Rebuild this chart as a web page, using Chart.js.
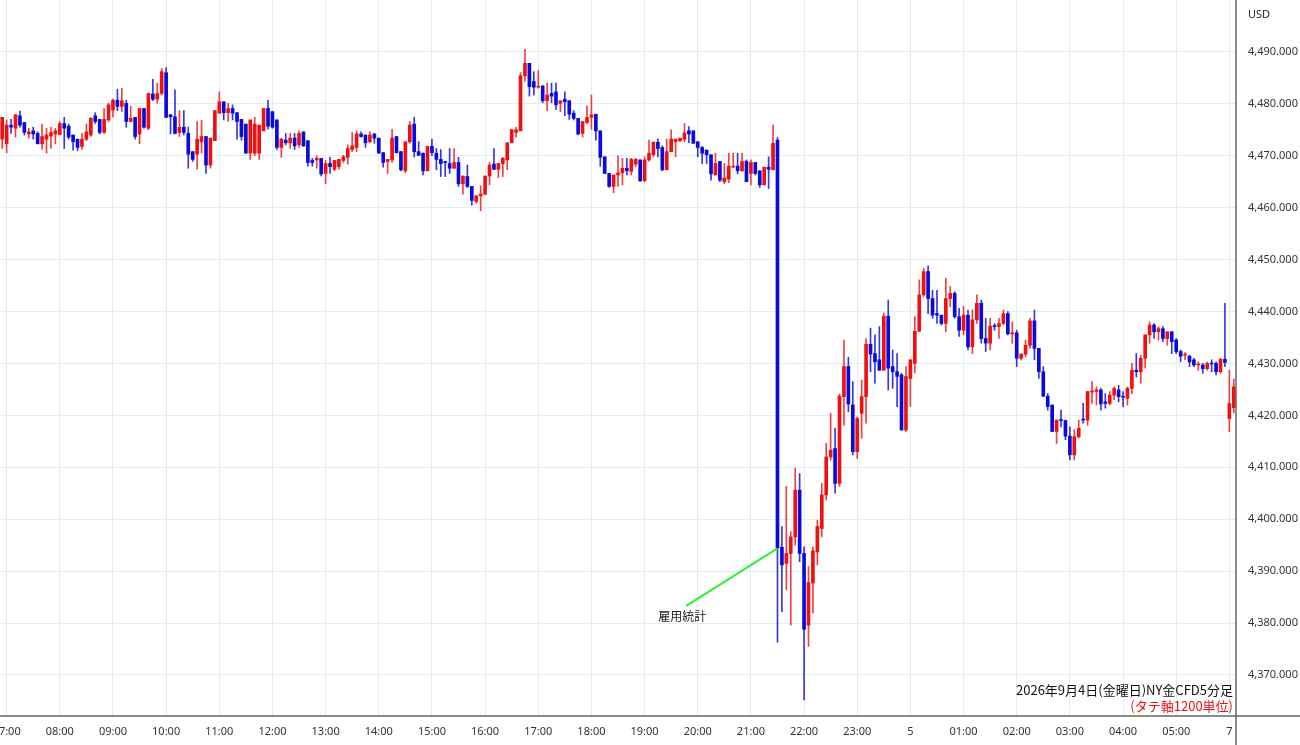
<!DOCTYPE html>
<html><head><meta charset="utf-8">
<script src="https://cdn.jsdelivr.net/npm/chart.js@4.4.1/dist/chart.umd.min.js"></script>
<style>html,body{margin:0;padding:0;background:#fff}</style>
</head><body><canvas id="c" width="1300" height="745"></canvas>
<script>
// OHLC per 5-minute candle [open, high, low, close]
const candles = [
[4473.2,4477.4,4471.4,4477.4],[4472.3,4476.9,4470.6,4475.9],[4475.9,4477.0,4474.3,4475.5],[4475.3,4477.9,4473.6,4477.9],[4477.7,4478.6,4475.5,4475.9],
[4476.4,4476.4,4474.0,4474.5],[4474.2,4475.3,4473.4,4474.6],[4474.8,4475.5,4473.2,4474.2],[4474.3,4474.6,4472.3,4472.3],[4472.3,4476.1,4471.2,4473.7],
[4473.2,4475.3,4470.5,4474.0],[4473.8,4475.5,4471.4,4474.5],[4474.2,4475.3,4472.3,4474.8],[4474.1,4476.6,4474.0,4476.2],[4476.2,4477.4,4471.4,4475.3],
[4475.7,4476.1,4473.2,4473.6],[4474.0,4474.0,4471.1,4472.7],[4473.2,4473.2,4471.0,4471.6],[4471.8,4474.3,4471.2,4473.2],[4473.2,4476.1,4472.9,4474.6],
[4474.0,4477.4,4473.7,4477.2],[4477.7,4478.3,4476.2,4476.6],[4477.0,4477.0,4474.2,4474.5],[4474.5,4479.1,4474.3,4477.0],[4476.9,4480.1,4476.6,4479.8],
[4478.8,4480.9,4477.5,4480.7],[4480.7,4482.8,4478.7,4479.5],[4479.5,4483.0,4478.5,4480.6],[4480.1,4480.7,4475.5,4476.6],[4476.6,4479.5,4476.6,4477.2],
[4477.4,4477.4,4473.2,4473.7],[4474.2,4479.1,4472.3,4479.1],[4479.1,4479.1,4475.3,4475.5],[4475.3,4482.0,4475.0,4482.0],[4481.9,4484.7,4480.6,4480.9],
[4480.9,4484.0,4480.1,4482.0],[4482.0,4486.8,4481.7,4486.2],[4486.0,4487.0,4477.4,4477.4],[4477.9,4477.9,4474.2,4477.5],[4477.5,4482.7,4474.2,4474.3],
[4474.5,4478.7,4473.7,4475.5],[4475.5,4478.7,4474.0,4474.5],[4474.3,4475.5,4467.6,4470.3],[4470.8,4470.8,4468.9,4469.3],[4470.3,4476.6,4467.4,4473.2],
[4472.7,4476.8,4470.5,4473.7],[4473.7,4473.7,4466.6,4468.2],[4468.2,4473.4,4467.6,4473.4],[4472.9,4478.7,4472.9,4478.7],[4478.2,4482.3,4478.2,4480.4],
[4480.4,4480.4,4476.9,4478.3],[4478.3,4480.1,4476.6,4479.1],[4479.1,4479.8,4476.9,4478.2],[4478.3,4478.3,4473.2,4476.6],[4477.0,4477.0,4473.0,4473.7],
[4476.1,4476.1,4470.5,4470.5],[4470.5,4476.9,4469.3,4476.9],[4470.5,4477.4,4470.0,4476.1],[4470.5,4475.9,4469.3,4475.9],[4474.8,4479.1,4474.8,4479.1],
[4479.1,4480.7,4475.1,4475.7],[4478.5,4478.5,4475.3,4475.5],[4476.9,4476.9,4471.2,4471.6],[4471.6,4473.4,4469.7,4473.2],[4473.0,4474.3,4472.1,4472.5],
[4472.5,4474.3,4471.4,4473.4],[4473.4,4474.3,4471.2,4471.9],[4472.1,4474.8,4471.6,4474.3],[4474.6,4474.6,4471.8,4471.9],[4472.9,4472.9,4468.0,4468.7],
[4469.1,4469.5,4468.0,4468.7],[4469.2,4470.0,4467.6,4469.5],[4469.5,4469.5,4466.1,4466.5],[4466.6,4469.1,4464.6,4468.5],[4468.5,4469.7,4466.6,4467.9],
[4467.4,4469.1,4467.1,4469.1],[4467.9,4469.3,4467.4,4469.3],[4469.1,4470.1,4468.7,4469.8],[4469.7,4472.1,4468.4,4471.4],[4471.2,4474.5,4470.8,4471.9],
[4471.6,4474.8,4470.8,4474.2],[4474.2,4474.6,4473.6,4473.7],[4474.0,4474.0,4471.6,4472.5],[4472.7,4474.6,4472.5,4474.0],[4474.2,4474.3,4472.4,4473.4],
[4473.4,4473.4,4470.5,4470.5],[4470.6,4470.6,4467.8,4468.7],[4468.9,4469.3,4466.6,4469.3],[4469.2,4475.1,4468.7,4473.4],[4473.7,4473.7,4470.5,4470.6],
[4470.8,4470.8,4467.1,4467.3],[4467.1,4472.7,4466.7,4472.7],[4472.7,4476.6,4472.4,4475.9],[4476.1,4477.4,4469.8,4470.8],[4470.8,4472.7,4470.0,4470.1],
[4470.5,4470.5,4466.3,4467.1],[4467.1,4471.8,4467.1,4471.8],[4471.8,4473.2,4470.0,4470.6],[4470.5,4471.4,4467.3,4469.3],[4469.3,4471.2,4466.0,4468.5],
[4468.9,4468.9,4466.0,4468.7],[4468.5,4471.4,4466.6,4467.6],[4467.6,4471.4,4467.6,4468.7],[4468.7,4469.7,4464.1,4464.6],[4464.6,4466.1,4462.6,4466.1],
[4466.0,4468.2,4463.9,4464.1],[4464.1,4464.1,4460.5,4461.4],[4461.2,4462.3,4460.9,4462.3],[4462.3,4464.2,4459.4,4462.6],[4462.6,4466.1,4462.5,4466.1],
[4466.1,4468.7,4464.4,4468.2],[4468.4,4471.4,4467.3,4467.4],[4467.4,4468.5,4465.8,4468.5],[4468.5,4469.7,4466.0,4469.5],[4469.2,4472.5,4467.3,4472.5],
[4472.5,4475.1,4472.5,4475.0],[4474.5,4475.5,4473.6,4475.0],[4474.8,4486.0,4474.8,4485.4],[4485.4,4490.5,4484.3,4487.8],[4487.8,4487.8,4481.5,4483.3],
[4484.3,4486.2,4481.7,4483.2],[4483.2,4486.4,4483.0,4483.4],[4483.4,4483.6,4480.2,4480.6],[4480.6,4484.0,4478.7,4481.7],[4482.0,4484.0,4480.2,4481.5],
[4482.3,4484.0,4478.9,4479.8],[4480.1,4480.6,4478.5,4480.6],[4480.9,4482.3,4477.7,4480.4],[4480.6,4480.6,4477.0,4478.0],[4478.2,4478.7,4476.9,4477.2],
[4477.2,4477.2,4474.0,4474.2],[4474.3,4476.6,4473.6,4476.6],[4476.4,4479.6,4476.2,4477.4],[4477.4,4481.7,4475.1,4477.9],[4478.0,4478.0,4473.0,4474.8],
[4474.8,4474.8,4468.0,4469.7],[4469.8,4469.8,4466.6,4466.6],[4466.6,4466.6,4463.9,4464.1],[4464.1,4466.3,4462.9,4466.3],[4466.3,4470.0,4464.1,4466.7],
[4466.7,4469.5,4464.4,4467.6],[4467.6,4469.5,4466.3,4467.1],[4467.0,4469.5,4466.3,4469.3],[4468.4,4469.5,4467.9,4469.3],[4469.2,4469.2,4465.0,4465.2],
[4465.2,4469.8,4465.0,4469.2],[4469.2,4473.0,4468.9,4470.5],[4470.2,4472.7,4469.8,4472.6],[4472.6,4473.2,4469.8,4471.4],[4471.6,4471.9,4467.1,4467.3],
[4467.3,4473.2,4467.3,4470.8],[4470.8,4475.0,4470.8,4473.2],[4472.7,4473.2,4469.8,4473.2],[4472.9,4473.4,4472.7,4473.4],[4473.2,4476.2,4472.7,4474.4],
[4474.8,4475.6,4472.5,4474.2],[4474.8,4474.8,4472.4,4472.4],[4472.7,4472.7,4469.8,4471.6],[4471.6,4471.8,4468.5,4470.5],[4471.1,4471.1,4468.5,4470.2],
[4470.2,4470.2,4465.3,4466.5],[4466.3,4470.5,4466.3,4468.5],[4468.9,4468.9,4465.0,4465.3],[4465.0,4468.5,4464.6,4465.7],[4465.5,4470.5,4464.8,4468.0],
[4467.8,4470.5,4467.8,4468.0],[4468.0,4470.5,4466.5,4467.1],[4467.1,4470.5,4467.0,4468.9],[4468.9,4469.2,4465.0,4465.0],[4466.6,4469.2,4464.4,4468.7],
[4468.7,4468.7,4466.3,4466.6],[4467.1,4467.1,4463.9,4464.4],[4464.4,4467.8,4464.4,4467.8],[4467.8,4469.8,4463.7,4467.4],[4467.3,4475.9,4467.3,4472.4],
[4473.0,4473.5,4376.3,4394.4],
[4394.6,4398.6,4382.2,4391.2],[4391.5,4406.3,4386.4,4393.4],[4393.4,4397.6,4379.6,4396.6],[4396.6,4409.8,4395.0,4405.6],[4405.6,4408.8,4391.8,4393.4],
[4393.4,4394.7,4365.2,4378.8],[4379.6,4390.9,4375.5,4387.8],[4387.7,4394.7,4381.9,4393.9],[4393.7,4399.8,4391.2,4398.6],[4398.2,4406.9,4396.6,4404.7],
[4404.7,4414.6,4403.7,4412.0],[4412.0,4420.4,4411.4,4413.3],[4413.6,4417.5,4405.0,4406.9],[4406.9,4424.1,4406.3,4423.7],[4423.6,4434.5,4418.1,4429.4],
[4429.4,4431.2,4420.7,4422.2],[4422.0,4426.5,4412.4,4413.0],[4413.0,4419.7,4411.7,4419.4],[4420.4,4426.8,4415.6,4423.6],[4423.6,4434.8,4418.5,4433.7],
[4433.7,4436.8,4428.4,4431.8],[4431.9,4435.5,4426.2,4430.3],[4430.7,4437.1,4428.7,4428.7],[4428.7,4439.7,4428.7,4439.1],[4439.1,4442.2,4424.9,4429.1],
[4429.4,4432.6,4425.2,4428.4],[4428.4,4431.9,4421.7,4427.5],[4427.8,4428.1,4417.1,4417.2],[4417.2,4429.4,4416.9,4427.5],[4427.1,4430.7,4421.7,4430.7],
[4430.0,4439.0,4428.2,4436.2],[4436.2,4446.1,4436.2,4443.2],[4443.2,4448.3,4442.9,4447.7],[4447.7,4448.8,4439.6,4442.5],[4442.5,4444.1,4438.7,4439.3],
[4439.6,4444.1,4437.7,4439.3],[4439.3,4439.3,4437.4,4437.7],[4437.7,4446.4,4436.1,4442.5],[4442.5,4444.8,4440.9,4443.5],[4443.5,4443.8,4438.7,4439.0],
[4439.0,4440.6,4435.2,4436.4],[4436.4,4441.0,4435.5,4439.3],[4439.3,4440.3,4432.6,4433.2],[4433.2,4440.3,4431.9,4438.4],[4438.4,4443.2,4437.7,4441.6],
[4441.6,4442.2,4433.9,4434.8],[4434.8,4438.7,4432.3,4433.9],[4433.9,4438.7,4432.6,4437.2],[4437.2,4437.7,4436.4,4437.1],[4437.1,4438.7,4434.8,4437.7],
[4437.7,4440.3,4437.4,4439.6],[4439.6,4440.0,4435.5,4435.7],[4435.7,4438.0,4433.9,4435.9],[4435.9,4436.4,4429.4,4431.0],[4431.0,4431.9,4430.7,4431.8],
[4431.8,4434.5,4431.3,4433.5],[4433.5,4438.7,4432.9,4438.2],[4438.2,4440.3,4430.7,4432.9],[4432.9,4432.9,4427.1,4428.4],[4428.4,4429.4,4423.6,4423.7],
[4423.7,4424.2,4421.0,4421.7],[4422.0,4422.0,4416.9,4416.9],[4416.9,4419.1,4414.6,4419.1],[4419.1,4421.0,4417.8,4419.0],[4419.0,4419.1,4415.3,4416.0],
[4416.0,4417.8,4411.4,4412.4],[4412.4,4417.3,4411.4,4415.9],[4415.9,4419.1,4415.6,4417.5],[4419.2,4422.3,4418.5,4419.1],[4419.1,4424.6,4418.1,4424.6],
[4424.5,4426.5,4422.3,4424.7],[4424.6,4425.5,4422.0,4424.9],[4424.9,4425.2,4421.0,4422.2],[4422.6,4424.2,4421.4,4422.3],[4422.3,4424.6,4422.0,4423.9],
[4423.9,4425.5,4423.0,4425.2],[4424.9,4425.8,4422.6,4423.6],[4423.6,4424.6,4421.7,4423.5],[4423.3,4425.5,4422.0,4425.2],[4425.2,4430.0,4424.2,4428.7],
[4428.7,4431.9,4427.4,4428.4],[4428.4,4431.6,4426.2,4431.0],[4431.0,4435.5,4429.1,4435.5],[4435.5,4438.0,4433.9,4437.4],[4437.4,4437.7,4434.8,4436.1],
[4436.1,4437.1,4434.5,4436.7],[4436.7,4437.1,4434.2,4434.8],[4434.8,4436.1,4433.5,4436.1],[4436.1,4436.1,4431.9,4434.2],[4434.5,4434.8,4431.9,4432.3],
[4432.3,4432.6,4430.3,4431.4],[4431.6,4432.1,4430.7,4431.6],[4431.4,4431.6,4429.4,4430.3],[4430.7,4431.0,4429.4,4429.7],[4429.7,4430.3,4428.7,4429.9],
[4429.7,4430.0,4428.1,4429.0],[4429.0,4430.3,4428.7,4430.0],[4430.0,4430.7,4428.4,4429.9],[4430.0,4430.3,4427.8,4428.4],[4428.4,4431.0,4428.1,4430.8],
[4430.8,4441.6,4429.4,4430.2],
[4419.4,4428.7,4416.9,4422.3],[4421.5,4427.0,4420.5,4425.5]
];
const yTicks = [4370,4380,4390,4400,4410,4420,4430,4440,4450,4460,4470,4480,4490];
const mondayCount = 2;               // candles after the weekend gap
const noteText = "雇用統計";
const titleText = "2026年9月4日(金曜日)NY金CFD5分足";
const subText = "(タテ軸1200単位)";

const labels = [];
const fridayCount = candles.length - mondayCount;
const MON = 24*60*100;
for (let i = 0; i < candles.length; i++) {
  labels.push(i < fridayCount ? 6*60+55 + i*5 : MON + 7*60 + (i-fridayCount)*5);
}
function tickText(m){
  if (m >= MON) return (m - MON === 7*60) ? "7" : null;
  if (m % 60 !== 0) return null;
  const h = Math.floor(m/60) % 24;
  if (h === 0) return "5";
  return String(h).padStart(2,"0") + ":00";
}
const RED = "#ee1111", BLUE = "#0a0adc";
const colors = candles.map(c => c[3] >= c[0] ? RED : BLUE);
const wickColors = candles.map(c => c[3] >= c[0] ? "rgba(238,30,30,0.85)" : "rgba(20,20,220,0.85)");

const annot = {
  id: 'annot',
  afterDatasetsDraw(chart){
    const {ctx, scales:{x,y}} = chart;
    ctx.save();
    const x1 = x.getPixelForValue(154.4), y1 = y.getPixelForValue(4383.3);
    const x2 = x.getPixelForValue(175), y2 = y.getPixelForValue(4394.4);
    ctx.strokeStyle = "#33ee33"; ctx.lineWidth = 2;
    ctx.beginPath(); ctx.moveTo(x1,y1); ctx.lineTo(x2,y2); ctx.stroke();
    ctx.fillStyle = "#222"; ctx.font = "12px 'Noto Sans CJK JP'"; ctx.textAlign = "center"; ctx.textBaseline = "middle";
    ctx.fillText(noteText, x1 - 4, y1 + 11);
    const ca = chart.chartArea;
    ctx.textAlign = "right"; ctx.font = "13px 'Noto Sans CJK JP'";
    ctx.fillStyle = "#111"; ctx.fillText(titleText, ca.right - 3, 690);
    ctx.fillStyle = "#ee1111"; ctx.fillText(subText, ca.right - 3, 706);
    ctx.fillStyle = "#222"; ctx.font = "11px 'Noto Sans'"; ctx.textAlign = "left";
    ctx.fillText("USD", ca.right + 12, 15);
    ctx.strokeStyle = "#666"; ctx.lineWidth = 1.5;
    ctx.beginPath(); ctx.moveTo(ca.right, 0); ctx.lineTo(ca.right, ca.bottom + 29); ctx.stroke();
    ctx.beginPath(); ctx.moveTo(0, ca.bottom); ctx.lineTo(1300, ca.bottom); ctx.stroke();
    ctx.restore();
  }
};

new Chart(document.getElementById('c'), {
  type: 'bar',
  data: {
    labels,
    datasets: [
      { data: candles.map(c => [c[2], c[1]]), backgroundColor: wickColors, barThickness: 1, grouped: false, order: 2 },
      { data: candles.map(c => [c[0], c[3]]), backgroundColor: colors, barThickness: 3, minBarLength: 1, grouped: false, order: 1 }
    ]
  },
  options: {
    responsive: false, animation: false, devicePixelRatio: 1,
    layout: { padding: 0 },
    plugins: { legend: { display: false }, tooltip: { enabled: false } },
    scales: {
      x: {
        offset: true,
        grid: { offset: false, color: "#e4ebf2", drawTicks: false },
        border: { display: false },
        ticks: { autoSkip: false, maxRotation: 0, color: "#333", font: { size: 11, family: "'Noto Sans'" }, padding: 9,
          callback: function(v, i){ return tickText(labels[i]); } },
        afterFit(s){ s.height = 29; s.paddingLeft = 0; s.paddingRight = 0; }
      },
      y: {
        position: 'right', min: 4362.1, max: 4500,
        afterBuildTicks(s){ s.ticks = yTicks.map(v => ({value: v})); },
        grid: { color: "#e4ebf2", drawTicks: false },
        border: { display: false },
        ticks: { color: "#333", font: { size: 11, family: "'Noto Sans'" }, padding: 12,
          callback: v => v.toLocaleString('en-US', {minimumFractionDigits: 3, maximumFractionDigits: 3}) },
        afterFit(s){ s.width = 64; s.paddingTop = 0; s.paddingBottom = 0; }
      }
    }
  },
  plugins: [annot]
});
</script>
</body></html>
